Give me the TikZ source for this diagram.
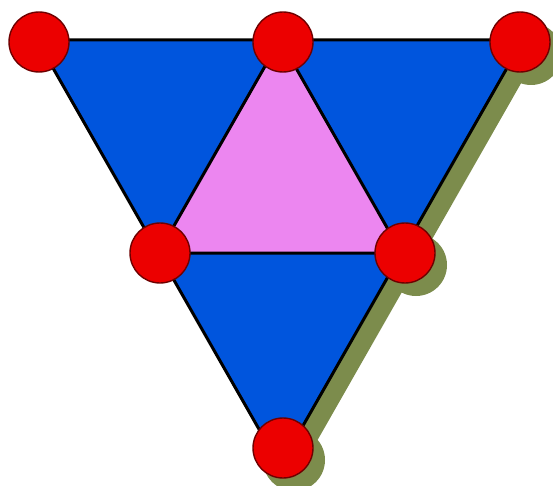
\documentclass[tikz,border=0pt]{standalone}
\usetikzlibrary{calc}
\definecolor{triblue}{RGB}{0,85,221}
\definecolor{innerpink}{RGB}{236,134,240}
\definecolor{dotred}{RGB}{236,0,0}
\definecolor{dotedge}{RGB}{110,0,0}
\definecolor{shadowolive}{RGB}{124,140,76}
\tikzset{
  dot/.style={circle,minimum size=60pt,inner sep=0pt,fill=dotred,draw=dotedge,line width=1.4pt},
  dotshadow/.style={circle,minimum size=62pt,inner sep=0pt,fill=shadowolive},
  edge/.style={draw=black,line width=3pt,line join=miter},
}
\begin{document}
\begin{tikzpicture}[x=1pt,y=-1pt]
\useasboundingbox (0,0) rectangle (553,486);
% vertices
\coordinate (A) at (37,40);
\coordinate (B) at (523,40);
\coordinate (C) at (280,466);
\coordinate (MT) at ($(A)!0.5!(B)$);
\coordinate (ML) at ($(A)!0.5!(C)$);
\coordinate (MR) at ($(B)!0.5!(C)$);
% shadows
\fill[shadowolive,draw=shadowolive,line width=4pt] ($(A)+(13,13)$) -- ($(B)+(13,13)$) -- ($(C)+(13,13)$) -- cycle;
\node[dotshadow] (s1) at (531,54) {};
\node[dotshadow] (s2) at (416,265) {};
\node[dotshadow] (s3) at (294,460) {};
% main triangle
\fill[triblue] (A) -- (B) -- (C) -- cycle;
\fill[innerpink] (MT) -- (ML) -- (MR) -- cycle;
\draw[edge] (A) -- (B) -- (C) -- cycle;
\draw[edge] (MT) -- (ML) -- (MR) -- cycle;
% dots
\node[dot] (d1) at (39,42) {};
\node[dot] (d2) at (283,42) {};
\node[dot] (d3) at (520,42) {};
\node[dot] (d4) at (160,253) {};
\node[dot] (d5) at (405,253) {};
\node[dot] (d6) at (283,448) {};
\end{tikzpicture}
\end{document}
